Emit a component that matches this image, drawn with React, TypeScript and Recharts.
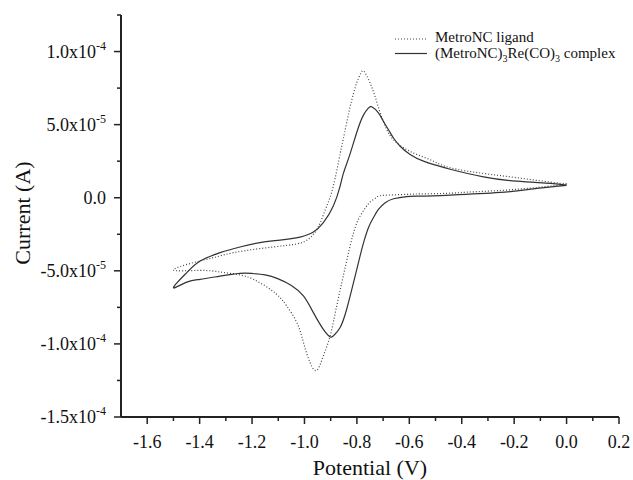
import React from 'react';
import { LineChart, Line, XAxis, YAxis, Legend } from 'recharts';

const FONT = '"Liberation Serif", "Times New Roman", serif';

// Potential (V) and current (µA), in scan order
const ligandE = [
  0.0, -0.126, -0.25, -0.381, -0.457, -0.559, -0.61, -0.699, -0.724, -0.75, -0.775, -0.8, -0.826,
  -0.852, -0.877, -0.902, -0.928, -0.953, -0.979, -1.004, -1.029, -1.068, -1.093, -1.131, -1.195,
  -1.258, -1.322, -1.398, -1.5,
  -1.424, -1.348, -1.271, -1.17, -1.068, -1.004, -0.966, -0.94, -0.915, -0.89, -0.864, -0.852,
  -0.826, -0.8, -0.785, -0.773, -0.75, -0.731, -0.711, -0.686, -0.661, -0.622, -0.571, -0.508,
  -0.444, -0.317, -0.19, -0.063, 0.0,
];
const ligandI = [
  9.1, 6.8, 5.0, 3.8, 3.0, 2.6, 2.3, 1.6, 0.3, -3.0, -9.0, -17.1, -33.1,
  -53.6, -74.0, -94.5, -108.2, -118.0, -112.7, -99.0, -85.4, -74.0, -68.3, -62.6, -55.8,
  -52.4, -50.8, -49.7, -49.5,
  -44.4, -41.0, -37.6, -34.8, -32.6, -30.3, -25.1, -17.1, -5.7, 7.9, 30.0, 40.0,
  62.0, 79.0, 85.0, 86.5, 78.6, 69.4, 58.1, 46.7, 39.8, 34.2, 29.6, 25.0,
  20.5, 16.6, 13.7, 10.7, 9.6,
];
const complexE = [
  0.0, -0.127, -0.253, -0.444, -0.559, -0.61, -0.66, -0.692, -0.718, -0.737, -0.756, -0.775,
  -0.788, -0.813, -0.839, -0.864, -0.89, -0.902, -0.928, -0.966, -1.004, -1.05, -1.1, -1.15,
  -1.2, -1.246, -1.322, -1.398, -1.449, -1.5,
  -1.449, -1.398, -1.322, -1.246, -1.17, -1.093, -1.017, -0.966, -0.928, -0.89, -0.864, -0.851,
  -0.826, -0.8, -0.775, -0.755, -0.743, -0.718, -0.699, -0.68, -0.661, -0.635, -0.597, -0.546,
  -0.495, -0.444, -0.317, -0.19, -0.063, 0.0,
];
const complexI = [
  8.4, 6.0, 3.6, 1.8, 1.1, 0.8, -0.7, -3.4, -8.0, -13.7, -20.5, -31.0,
  -39.9, -58.1, -76.3, -88.8, -94.5, -95.2, -90.0, -78.6, -67.2, -60.0, -55.5, -52.8,
  -51.8, -51.7, -53.6, -55.8, -57.7, -61.5,
  -51.2, -43.3, -37.6, -33.7, -30.7, -29.0, -26.9, -23.5, -17.1, -5.7, 7.9, 17.0,
  30.0, 45.0, 56.5, 61.5, 62.2, 58.1, 52.3, 46.7, 41.0, 35.2, 29.6, 25.0,
  22.1, 19.5, 14.3, 11.3, 9.8, 8.6,
];

const xTicks = [-1.6, -1.5, -1.4, -1.3, -1.2, -1.1, -1.0, -0.9, -0.8, -0.7, -0.6, -0.5, -0.4, -0.3, -0.2, -0.1, 0.0, 0.1, 0.2];
const yTicks = [-150, -125, -100, -75, -50, -25, 0, 25, 50, 75, 100, 125];
const yLabelValues = [-150, -100, -50, 0, 50, 100];
const yLabelBase = ['-1.5x10', '-1.0x10', '-5.0x10', '0.0', '5.0x10', '1.0x10'];
const yLabelExp = ['-4', '-4', '-5', '', '-5', '-4'];

const ligandName = 'MetroNC ligand';
const complexName = '(MetroNC)3Re(CO)3 complex';

const ligandData = ligandE.map((E, i) => ({ E, I: ligandI[i] }));
const complexData = complexE.map((E, i) => ({ E, I: complexI[i] }));

const AXIS = '#222';

const XTick = (props: any) => {
  const { x, y, payload } = props;
  const v = payload.value as number;
  const major = Math.round(v * 10) % 2 === 0;
  return (
    <g>
      <line x1={x} x2={x} y1={y} y2={y + (major ? 7 : 4)} stroke={AXIS} strokeWidth={1.5} />
      {major && (
        <text x={x} y={y + 31} textAnchor="middle" fontSize={18} fontFamily={FONT} fill="#111">
          {v.toFixed(1)}
        </text>
      )}
    </g>
  );
};

const YTick = (props: any) => {
  const { x, y, payload } = props;
  const v = payload.value as number;
  const idx = yLabelValues.indexOf(v);
  const major = idx >= 0;
  return (
    <g>
      <line x1={x} x2={x - (major ? 7 : 4)} y1={y} y2={y} stroke={AXIS} strokeWidth={1.5} />
      {major && (
        <text x={x - 15} y={y + 6} textAnchor="end" fontSize={18} fontFamily={FONT} fill="#111">
          {yLabelBase[idx]}
          {yLabelExp[idx] && (
            <tspan dy={-8} fontSize={12}>
              {yLabelExp[idx]}
            </tspan>
          )}
        </text>
      )}
    </g>
  );
};

const LegendBox = () => (
  <svg width={240} height={40} style={{ display: 'block', overflow: 'visible' }}>
    <line x1={5} x2={37} y1={11} y2={11} stroke="#444" strokeWidth={1.2} strokeDasharray="1 2" />
    <text x={45} y={14} fontSize={15} fontFamily={FONT} fill="#111">
      {ligandName}
    </text>
    <line x1={5} x2={37} y1={25.5} y2={25.5} stroke="#333" strokeWidth={1.2} />
    <text x={45} y={30} fontSize={15} fontFamily={FONT} fill="#111">
      (MetroNC)
      <tspan dy={4} fontSize={10}>3</tspan>
      <tspan dy={-4}>Re(CO)</tspan>
      <tspan dy={4} fontSize={10}>3</tspan>
      <tspan dy={-4}> complex</tspan>
    </text>
  </svg>
);

export default function App() {
  return (
    <div style={{ position: 'absolute', left: 0, top: 0, background: '#fff' }}>
      <LineChart
        width={633}
        height={480}
        margin={{ top: 15, right: 14, bottom: 0, left: 8 }}
        style={{ fontFamily: FONT }}
      >
        <XAxis
          type="number"
          dataKey="E"
          domain={[-1.7, 0.2]}
          ticks={xTicks}
          interval={0}
          height={63}
          tickSize={0}
          tickMargin={0}
          tickLine={false}
          axisLine={{ stroke: AXIS, strokeWidth: 2 }}
          tick={<XTick />}
          allowDataOverflow
          label={() => (
            <text x={370} y={475} textAnchor="middle" fontSize={22} fontFamily={FONT} fill="#111">
              Potential (V)
            </text>
          )}
        />
        <YAxis
          type="number"
          dataKey="I"
          domain={[-150, 125]}
          ticks={yTicks}
          interval={0}
          width={113}
          tickSize={0}
          tickMargin={0}
          tickLine={false}
          axisLine={{ stroke: AXIS, strokeWidth: 2 }}
          tick={<YTick />}
          allowDataOverflow
          label={() => (
            <text
              x={22}
              y={213}
              transform="rotate(-90 22 213)"
              textAnchor="middle"
              dominantBaseline="central"
              fontSize={22}
              fontFamily={FONT}
              fill="#111"
            >
              Current (A)
            </text>
          )}
        />
        <Legend
          layout="vertical"
          align="center"
          verticalAlign="middle"
          wrapperStyle={{ top: 28, left: 390, width: 240, height: 40 }}
          content={() => <LegendBox />}
        />
        <Line
          name={ligandName}
          data={ligandData}
          dataKey="I"
          type="natural"
          stroke="#444"
          strokeWidth={1.2}
          strokeDasharray="1 2"
          dot={false}
          activeDot={false}
          isAnimationActive={false}
        />
        <Line
          name={complexName}
          data={complexData}
          dataKey="I"
          type="natural"
          stroke="#333"
          strokeWidth={1.2}
          dot={false}
          activeDot={false}
          isAnimationActive={false}
        />
      </LineChart>
    </div>
  );
}
